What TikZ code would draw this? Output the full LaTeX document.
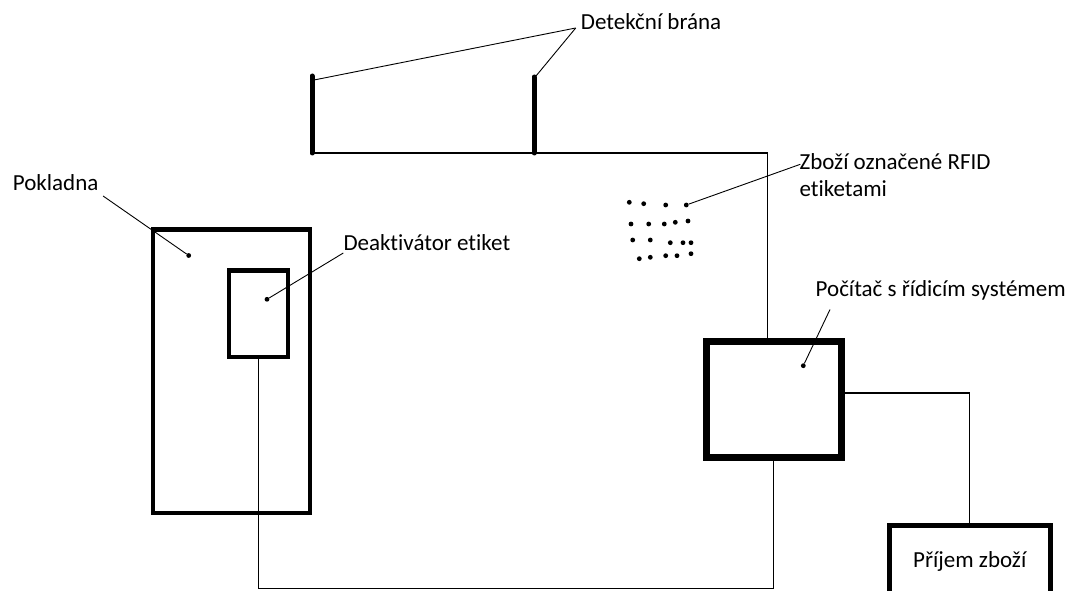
\documentclass[tikz,border=0pt]{standalone}
\usepackage{fontspec}
\setmainfont{Carlito}[Ligatures=NoCommon]
\usetikzlibrary{calc}
\definecolor{Ink}{HTML}{000000}
\definecolor{Paper}{HTML}{FFFFFF}
\tikzset{unitbox/.style={rectangle,draw=Ink,line width=4.5pt,fill=Paper,inner sep=0pt,align=center,text=Ink},pcbox/.style={unitbox,line width=7pt},wire/.style={draw=Ink,line width=1.3pt},leader/.style={draw=Ink,line width=0.9pt},post/.style={draw=Ink,line width=5pt,line cap=round},tagdot/.style={circle,fill=Ink,inner sep=0pt,minimum size=4.8pt},callout/.style={anchor=base west,inner sep=0pt,text=Ink,align=left}}
\begin{document}
\begin{tikzpicture}[x=1pt,y=-1pt,font=\fontsize{23}{27.4}\selectfont]
\useasboundingbox[fill=Paper] (0,0) rectangle (1072,591);
\coordinate (postLtop) at (312,76);\coordinate (postLfoot) at (312,153);
\coordinate (postRtop) at (534,77);\coordinate (postRfoot) at (534,153);
\node[unitbox,minimum width=157pt,minimum height=283.5pt] (pokladna) at (231.5,371.25) {};
\node[unitbox,minimum width=59pt,minimum height=86.7pt] (deakt) at (258.5,313.7) {};
\node[pcbox,minimum width=135.5pt,minimum height=116pt] (pocitac) at (773.75,399) {};
\node[unitbox,line width=5pt,minimum width=161.5pt,minimum height=71pt] (prijem) at (969.75,561) {Příjem zboží};
% vodice
\draw[wire] (postLfoot) -| ($(pocitac.north)+(-6,0)$);
\draw[wire] (deakt.south) -- ++(0,229) -| (pocitac.south);
\draw[wire] ($(pocitac.east)+(0,-6)$) -| (prijem.north);
\draw[post] (postLtop) -- (postLfoot);\draw[post] (postRtop) -- (postRfoot);
% zbozi s RFID
\foreach \px/\py in {629.3/202.3,643.7/203.7,665.7/205,631/224,648.7/224,664.3/224,675.3/222.3,688/221,632.7/240,650.3/240,670.3/242.7,683/242.7,691/242.7,639.3/258.7,650.3/257.3,665.7/255.7,677/255.7,691/253.7} \node[tagdot] at (\px,\py) {};
\node[tagdot] (dotRfid) at (686.3,205) {};
\node[tagdot] (dotPokladna) at (188.7,255.5) {};
\node[tagdot] (dotDeakt) at (267,299.3) {};
\node[tagdot] (dotPocitac) at (803.3,365.7) {};
% popisky
\node[callout] (tGate) at (580.7,30) {Detekční brána};
\node[callout] (tPokladna) at (12.7,190.7) {Pokladna};
\node[callout] (tDeakt) at (343.3,251) {Deaktivátor etiket};
\node[callout] (tRfid) at (799.3,196.7) {Zboží označené RFID\\etiketami};
\node[callout] (tPocitac) at (815.5,296.5) {Počítač s řídicím systémem};
\draw[leader] ($(tGate.base west)+(-5,-2)$) -- ($(postLtop)+(2,4)$);
\draw[leader] ($(tGate.base west)+(-5,-2)$) -- ($(postRtop)+(2,-1)$);
\draw[leader] ($(tPokladna.base east)+(4.5,5.3)$) -- (dotPokladna);
\draw[leader] ($(tDeakt.base west)+(0,2)$) -- (dotDeakt);
\draw[leader] ($(tRfid.base west)+(1,-32.4)$) -- (dotRfid);
\draw[leader] ($(tPocitac.base west)+(14.5,13)$) -- (dotPocitac);
\end{tikzpicture}
\end{document}
